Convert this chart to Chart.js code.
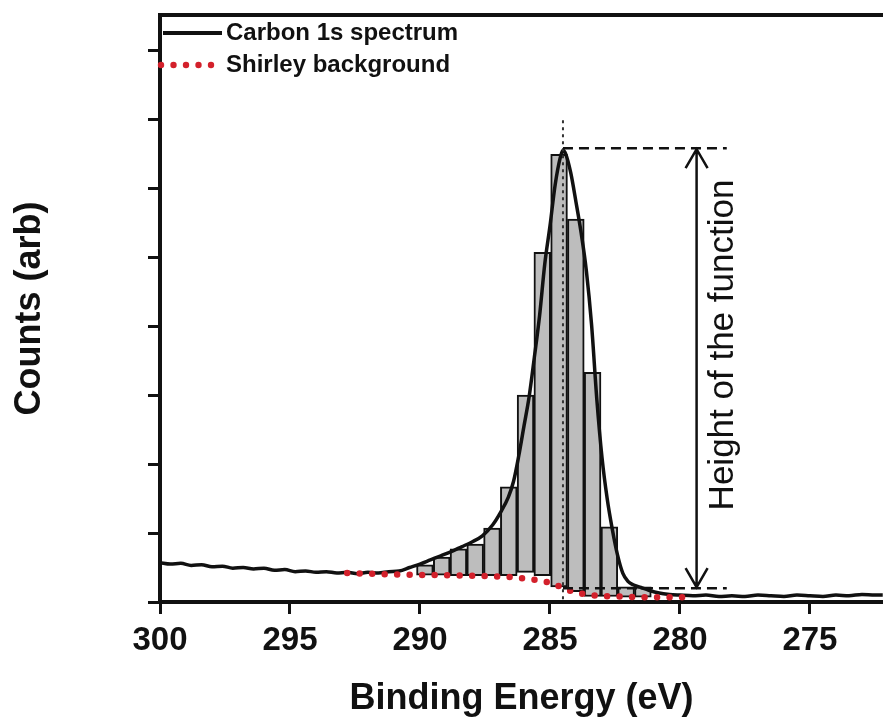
<!DOCTYPE html>
<html>
<head>
<meta charset="utf-8">
<script src="https://cdn.jsdelivr.net/npm/chart.js@4.4.1/dist/chart.umd.min.js"></script>
<style>
  html, body { margin: 0; padding: 0; background: #fff; overflow: hidden; }
  #wrap { width: 883px; height: 721px; }
</style>
</head>
<body>
<div id="wrap"><canvas id="xpsChart" width="883" height="721"></canvas></div>
<script>
// Carbon 1s spectrum (binding energy in eV, counts in arbitrary units)
const specEnergy = [300.0, 299.6, 299.2, 298.8, 298.4, 298.0, 297.6, 297.2, 296.8, 296.4,
  296.0, 295.6, 295.2, 294.8, 294.4, 294.0, 293.6, 293.2, 292.8, 292.4,
  292.0, 291.6, 291.2, 290.8, 290.4, 290.0, 289.6, 289.2, 288.8, 288.4,
  288.0, 287.6, 287.2, 286.9, 286.6, 286.4, 286.2, 286.0, 285.8, 285.6,
  285.4, 285.2, 285.0, 284.8, 284.6, 284.5, 284.4, 284.2, 284.0, 283.8,
  283.6, 283.4, 283.2, 283.0, 282.8, 282.6, 282.4, 282.2, 282.0, 281.8,
  281.5, 281.2, 280.8, 280.4, 280.0, 279.5, 279.0, 278.5, 278.0, 277.5,
  277.0, 276.5, 276.0, 275.5, 275.0, 274.5, 274.0, 273.5, 273.0, 272.5, 272.2];
const specCounts = [0.57, 0.55, 0.56, 0.53, 0.54, 0.51, 0.52, 0.49, 0.50, 0.48,
  0.49, 0.46, 0.47, 0.44, 0.45, 0.43, 0.44, 0.42, 0.43, 0.41,
  0.43, 0.42, 0.44, 0.45, 0.50, 0.55, 0.61, 0.67, 0.73, 0.80,
  0.87, 0.96, 1.12, 1.30, 1.52, 1.75, 2.12, 2.55, 2.98, 3.55,
  4.15, 4.90, 5.45, 6.05, 6.45, 6.55, 6.50, 6.22, 5.80, 5.35,
  4.80, 4.02, 2.95, 2.10, 1.50, 1.05, 0.68, 0.42, 0.30, 0.25,
  0.21, 0.17, 0.13, 0.11, 0.10, 0.09, 0.10, 0.08, 0.09, 0.08,
  0.10, 0.09, 0.08, 0.10, 0.09, 0.08, 0.10, 0.09, 0.11, 0.10, 0.10];

// Shirley background
const shirleyEnergy = [292.8, 292.0, 291.0, 290.0, 289.0, 288.0, 287.0, 286.5, 286.0, 285.5,
  285.0, 284.6, 284.2, 283.8, 283.2, 282.5, 281.5, 280.5, 279.8];
const shirleyCounts = [0.42, 0.41, 0.40, 0.39, 0.39, 0.38, 0.37, 0.36, 0.34, 0.32,
  0.28, 0.22, 0.16, 0.12, 0.09, 0.08, 0.07, 0.07, 0.07];

// integration rectangles: centre, bottom (background) and top
const barCenters = [289.81, 289.165, 288.52, 287.875, 287.23, 286.585, 285.94,
  285.295, 284.65, 284.005, 283.36, 282.715, 282.07, 281.425];
const barBottoms = [0.39, 0.39, 0.38, 0.38, 0.38, 0.38, 0.43,
  0.38, 0.22, 0.15, 0.08, 0.08, 0.07, 0.07];
const barTops = [0.54, 0.65, 0.77, 0.84, 1.07, 1.67, 3.00,
  5.07, 6.49, 5.55, 3.33, 1.09, 0.22, 0.22];

const xTicks = [300, 295, 290, 285, 280, 275];

// height-of-function annotation (eV / counts)
const peakEnergy = 284.5;
const peakHeight = 6.58;
const baseHeight = 0.2;
const arrowEnergy = 279.36;
const dashEnd = 278.2;

const black = '#111111';
const red = '#d3202b';

const overlay = {
  id: 'overlay',
  afterDatasetsDraw(chart) {
    const ctx = chart.ctx;
    const xs = chart.scales.x, ys = chart.scales.y;
    const area = chart.chartArea;
    ctx.save();

    // top frame line
    ctx.strokeStyle = black;
    ctx.lineWidth = 4;
    ctx.beginPath();
    ctx.moveTo(area.left - 2, area.top);
    ctx.lineTo(chart.width, area.top);
    ctx.stroke();

    const px = xs.getPixelForValue(peakEnergy);
    const ax = xs.getPixelForValue(arrowEnergy);
    const ex = xs.getPixelForValue(dashEnd);
    const yTop = ys.getPixelForValue(peakHeight);
    const yBase = ys.getPixelForValue(baseHeight);

    // dotted vertical through the peak
    ctx.strokeStyle = '#333';
    ctx.lineWidth = 2;
    ctx.setLineDash([3, 4]);
    ctx.beginPath();
    ctx.moveTo(px, yTop - 28);
    ctx.lineTo(px, area.bottom);
    ctx.stroke();

    // dashed levels
    ctx.strokeStyle = black;
    ctx.lineWidth = 2.5;
    ctx.setLineDash([10, 6]);
    ctx.beginPath();
    ctx.moveTo(px, yTop);
    ctx.lineTo(ex, yTop);
    ctx.moveTo(px, yBase);
    ctx.lineTo(ex, yBase);
    ctx.stroke();
    ctx.setLineDash([]);

    // double arrow
    ctx.lineWidth = 2.5;
    ctx.beginPath();
    ctx.moveTo(ax, yTop + 1);
    ctx.lineTo(ax, yBase - 1);
    ctx.moveTo(ax - 11, yTop + 20);
    ctx.lineTo(ax, yTop + 1);
    ctx.lineTo(ax + 11, yTop + 20);
    ctx.moveTo(ax - 11, yBase - 20);
    ctx.lineTo(ax, yBase - 1);
    ctx.lineTo(ax + 11, yBase - 20);
    ctx.stroke();

    // rotated label
    ctx.save();
    ctx.translate(ex - 3, 345);
    ctx.rotate(-Math.PI / 2);
    ctx.fillStyle = black;
    ctx.font = '35px "Liberation Sans", Arial, sans-serif';
    ctx.textAlign = 'center';
    ctx.textBaseline = 'middle';
    ctx.fillText('Height of the function', 0, 0);
    ctx.restore();

    // legend
    ctx.font = 'bold 24px "Liberation Sans", Arial, sans-serif';
    ctx.textAlign = 'left';
    ctx.textBaseline = 'middle';
    ctx.fillStyle = black;
    ctx.strokeStyle = black;
    ctx.lineWidth = 4;
    ctx.beginPath();
    ctx.moveTo(area.left + 3, 33);
    ctx.lineTo(area.left + 62, 33);
    ctx.stroke();
    ctx.fillText(chart.data.datasets[1].label, area.left + 66, 33);

    ctx.fillStyle = red;
    for (let i = 0; i < 5; i++) {
      ctx.beginPath();
      ctx.arc(area.left + 1 + i * 12.5, 65, 3.2, 0, Math.PI * 2);
      ctx.fill();
    }
    ctx.fillStyle = black;
    ctx.fillText(chart.data.datasets[0].label, area.left + 66, 65);

    ctx.restore();
  }
};

new Chart(document.getElementById('xpsChart'), {
  type: 'line',
  data: {
    datasets: [{
      label: 'Shirley background',
      data: shirleyEnergy.map((e, i) => ({ x: e, y: shirleyCounts[i] })),
      borderColor: red,
      borderWidth: 6.5,
      borderDash: [0, 12.5],
      borderCapStyle: 'round',
      pointRadius: 0,
      fill: false,
      order: 0
    }, {
      label: 'Carbon 1s spectrum',
      data: specEnergy.map((e, i) => ({ x: e, y: specCounts[i] })),
      borderColor: black,
      borderWidth: 3.5,
      pointRadius: 0,
      cubicInterpolationMode: 'monotone',
      fill: false,
      order: 1
    }, {
      type: 'bar',
      label: 'Integration',
      data: barCenters.map((e, i) => ({ x: e, y: [barBottoms[i], barTops[i]] })),
      backgroundColor: '#bdbdbd',
      borderColor: black,
      borderWidth: 2,
      borderSkipped: false,
      barPercentage: 1,
      categoryPercentage: 1,
      order: 2
    }]
  },
  options: {
    responsive: false,
    animation: false,
    layout: { padding: { left: 0, top: 15, right: 0, bottom: 0 } },
    plugins: {
      legend: { display: false },
      tooltip: { enabled: false }
    },
    scales: {
      x: {
        type: 'linear',
        reverse: true,
        offset: false,
        min: 272.19,
        max: 300,
        afterFit(scale) { scale.height = 119; },
        afterBuildTicks(scale) { scale.ticks = xTicks.map(v => ({ value: v })); },
        border: { display: true, color: black, width: 4 },
        grid: { offset: false, drawOnChartArea: false, drawTicks: true, tickLength: 12, tickWidth: 3, tickColor: black },
        ticks: {
          color: black,
          font: { family: '"Liberation Sans", Arial, sans-serif', size: 33, weight: 'bold' },
          padding: 7,
          maxRotation: 0
        },
        title: {
          display: true,
          text: 'Binding Energy (eV)',
          color: black,
          font: { family: '"Liberation Sans", Arial, sans-serif', size: 36, weight: 'bold' },
          padding: { top: 0, bottom: 0 }
        }
      },
      y: {
        min: 0,
        max: 8.51,
        afterFit(scale) { scale.width = 160; },
        border: { display: true, color: black, width: 4 },
        grid: { drawOnChartArea: false, drawTicks: true, tickLength: 12, tickWidth: 3, tickColor: black },
        ticks: {
          stepSize: 1,
          includeBounds: false,
          callback: () => ''
        },
        title: {
          display: true,
          text: 'Counts (arb)',
          color: black,
          font: { family: '"Liberation Sans", Arial, sans-serif', size: 36, weight: 'bold' },
          padding: { top: 8, bottom: 0 }
        }
      }
    }
  },
  plugins: [overlay]
});
</script>
</body>
</html>
